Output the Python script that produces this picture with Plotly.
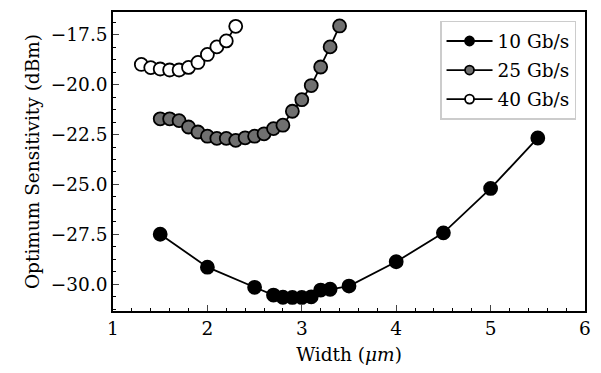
import plotly.graph_objects as go

x10 = [1.5, 2.0, 2.5, 2.7, 2.8, 2.9, 3.0, 3.1, 3.2, 3.3, 3.5, 4.0, 4.5, 5.0, 5.5]
y10 = [-27.5, -29.15, -30.16, -30.55, -30.66, -30.67, -30.67, -30.64, -30.3, -30.26, -30.1, -28.88, -27.43, -25.2, -22.67]

x25 = [1.5, 1.6, 1.7, 1.8, 1.9, 2.0, 2.1, 2.2, 2.3, 2.4, 2.5, 2.6, 2.7, 2.8, 2.9, 3.0, 3.1, 3.2, 3.3, 3.4]
y25 = [-21.71, -21.71, -21.8, -22.12, -22.37, -22.58, -22.69, -22.69, -22.79, -22.66, -22.58, -22.46, -22.2, -22.03,
       -21.33, -20.75, -20.04, -19.11, -18.1, -17.05]

x40 = [1.3, 1.4, 1.5, 1.6, 1.7, 1.8, 1.9, 2.0, 2.1, 2.2, 2.3]
y40 = [-18.98, -19.14, -19.21, -19.26, -19.26, -19.13, -18.88, -18.48, -18.1, -17.8, -17.07]

series = [("10 Gb/s", x10, y10, "black"), ("25 Gb/s", x25, y25, "#707070"), ("40 Gb/s", x40, y40, "white")]

fig = go.Figure()
for i, (name, xs, ys, fc) in enumerate(series):
    fig.add_trace(go.Scatter(
        x=xs, y=ys, name=name, mode="lines+markers", legendgroup=str(i), showlegend=False,
        line=dict(color="black", width=1.8),
        marker=dict(size=13, color=fc, line=dict(color="black", width=1.8)),
    ))
# legend entries with smaller symbols, as in the reference
for i, (name, xs, ys, fc) in enumerate(series):
    fig.add_trace(go.Scatter(
        x=[None], y=[None], name=name, mode="lines+markers", legendgroup=str(i), showlegend=True,
        line=dict(color="black", width=1.8),
        marker=dict(size=9, color=fc, line=dict(color="black", width=1.8)),
    ))

font = dict(family="DejaVu Serif", size=18.5, color="black")
fig.update_layout(
    width=601, height=373,
    margin=dict(l=113, r=14, t=10, b=62),
    plot_bgcolor="white", paper_bgcolor="white",
    font=font,
    showlegend=True,
    legend=dict(x=0.981, y=0.97, xanchor="right", yanchor="top",
                bordercolor="#cccccc", borderwidth=1.5, bgcolor="white", itemwidth=46,
                font=dict(family="DejaVu Serif", size=18.5), traceorder="grouped", tracegroupgap=2),
    xaxis=dict(range=[1, 6], dtick=1, tick0=1, ticks="inside", ticklen=6, tickwidth=1.2,
               showline=True, linecolor="black", linewidth=1.5, mirror=True, showgrid=False, zeroline=False,
               minor=dict(ticks="inside", dtick=0.2, tick0=1, ticklen=3, tickwidth=1, tickcolor="black"),
               title=dict(text="Width (<i>μm</i>)", font=font, standoff=10)),
    yaxis=dict(range=[-31.35, -16.35], dtick=2.5, tick0=-30, ticks="inside", ticklen=6, tickwidth=1.2,
               tickformat=".1f",
               showline=True, linecolor="black", linewidth=1.5, mirror=True, showgrid=False, zeroline=False,
               minor=dict(ticks="inside", dtick=0.625, tick0=-30, ticklen=3, tickwidth=1, tickcolor="black"),
               title=dict(text="Optimum Sensitivity (dBm)", font=font, standoff=6)),
)
fig.write_html("out.html")
